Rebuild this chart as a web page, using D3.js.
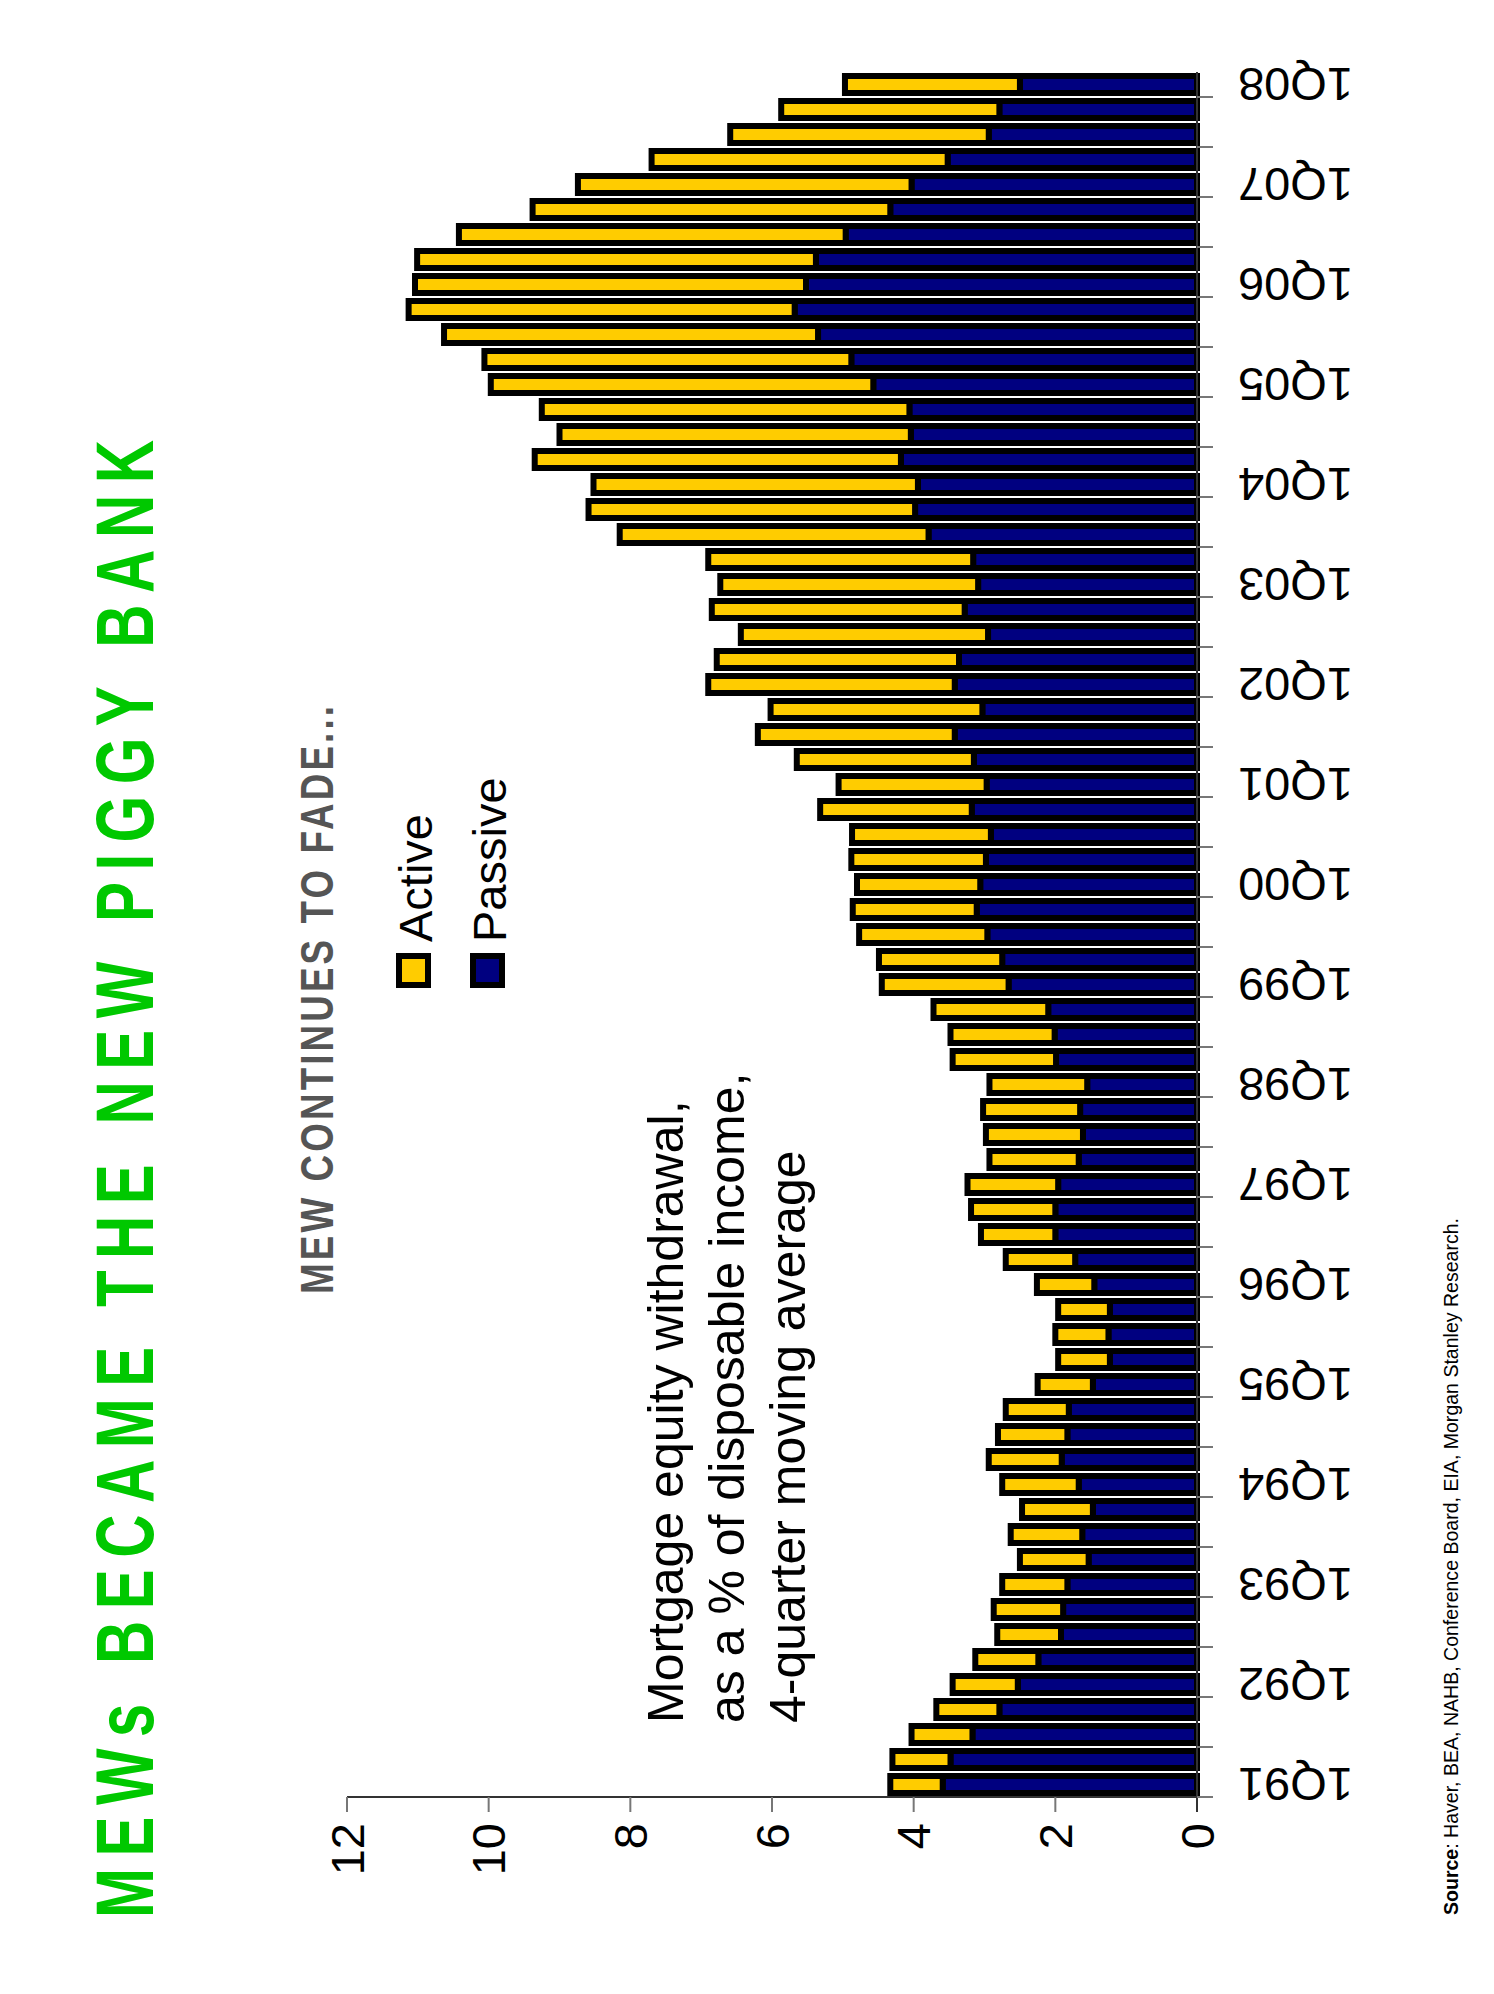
<!DOCTYPE html>
<html><head><meta charset="utf-8">
<script src="https://cdn.jsdelivr.net/npm/d3@7"></script>
<style>
html,body{margin:0;padding:0;background:#fff;}
svg{display:block;}
</style>
</head><body>
<script>
// ---- data (chronological, 1Q91 .. 1Q08) ----
const categories = (function(){
  const out = [];
  for (let y = 1991; y <= 2008; y++) {
    for (let q = 1; q <= 4; q++) {
      if (y === 2008 && q > 1) break;
      out.push(q + "Q" + String(y).slice(2));
    }
  }
  return out;
})();
const passive = [3.59,3.48,3.17,2.79, 2.53,2.24,1.92,1.89, 1.83,1.53,1.62,1.47, 1.67,1.91,1.83,1.81,
  1.47,1.23,1.25,1.23, 1.45,1.72,2.00,2.00, 1.96,1.67,1.61,1.65, 1.55,1.99,2.01,2.10,
  2.66,2.75,2.96,3.11, 3.06,2.98,2.91,3.18, 2.97,3.15,3.42,3.03, 3.42,3.36,2.95,3.28,
  3.09,3.16,3.79,3.98, 3.94,4.18,4.04,4.06, 4.57,4.88,5.35,5.68, 5.52,5.38,4.96,4.33,
  4.03,3.52,2.94,2.79, 2.50];
const active = [0.74,0.82,0.86,0.89, 0.92,0.89,0.90,0.98, 0.92,0.97,1.01,1.00, 1.08,1.03,0.98,0.89,
  0.78,0.73,0.75,0.73, 0.81,0.98,1.05,1.19, 1.28,1.26,1.37,1.37, 1.38,1.46,1.47,1.62,
  1.79,1.74,1.81,1.75, 1.74,1.90,1.96,2.14, 2.09,2.50,2.78,2.99, 3.48,3.42,3.49,3.57,
  3.64,3.74,4.36,4.61, 4.58,5.17,4.96,5.19, 5.40,5.18,5.28,5.45, 5.52,5.63,5.46,5.05,
  4.71,4.18,3.65,3.08, 2.47];
const valueTicks = [0,2,4,6,8,10,12];
const categoryLabels = categories.filter(c => c.startsWith("1Q"));
const seriesNames = ["Active","Passive"];
const titleText = "MEWs BECAME THE NEW PIGGY BANK";
const subtitleText = "MEW CONTINUES TO FADE...";
const noteLines = ["Mortgage equity withdrawal,", "as a % of disposable income,", "4-quarter moving average"];
const sourceBold = "Source";
const sourceRest = ": Haver, BEA, NAHB, Conference Board, EIA, Morgan Stanley Research.";

// ---- drawing ----
const W = 1494, H = 1994;
const YELLOW = "#FFCC00", NAVY = "#000080", GREEN = "#00C800";
const SANS = "'Liberation Sans', Arial, Helvetica, sans-serif";
const svg = d3.select("body").append("svg").attr("width", W).attr("height", H);
svg.append("rect").attr("width", W).attr("height", H).attr("fill", "#fff");

const x = d3.scaleLinear().domain([0, 12]).range([1197, 347]);
const y = d3.scaleBand().domain(categories).range([1797, 72]).padding(0);
const bw = y.bandwidth();
const SW = 6;

const rows = categories.map((c, i) => ({c, p: passive[i], a: active[i]}));
const gBars = svg.append("g");
const inset = 1 + SW / 2;
gBars.selectAll("rect.p").data(rows).join("rect")
  .attr("class", "p")
  .attr("x", d => x(d.p)).attr("width", d => x(0) - x(d.p))
  .attr("y", d => y(d.c) + inset).attr("height", bw - 2 * inset)
  .attr("fill", NAVY).attr("stroke", "#000").attr("stroke-width", SW);
gBars.selectAll("rect.a").data(rows).join("rect")
  .attr("class", "a")
  .attr("x", d => x(d.p + d.a)).attr("width", d => x(d.p) - x(d.p + d.a))
  .attr("y", d => y(d.c) + inset).attr("height", bw - 2 * inset)
  .attr("fill", YELLOW).attr("stroke", "#000").attr("stroke-width", SW);

// value axis
const baseY = y.range()[0];
svg.append("line").attr("x1", x(12)).attr("x2", x(0) + 2).attr("y1", baseY).attr("y2", baseY)
  .attr("stroke", "#333").attr("stroke-width", 2);
svg.selectAll("line.vt").data(valueTicks).join("line").attr("class", "vt")
  .attr("x1", d => x(d)).attr("x2", d => x(d)).attr("y1", baseY).attr("y2", baseY + 15)
  .attr("stroke", "#777").attr("stroke-width", 2);
svg.selectAll("text.vl").data(valueTicks).join("text").attr("class", "vl")
  .attr("transform", d => `translate(${x(d)},1823) rotate(-90)`)
  .attr("text-anchor", "end").attr("dominant-baseline", "central")
  .attr("font-family", SANS).attr("font-size", 47)
  .attr("fill", "#000").text(d => d);

// category axis
const ax = x(0);
svg.append("line").attr("x1", ax).attr("x2", ax).attr("y1", y.range()[1]).attr("y2", baseY + 15)
  .attr("stroke", "#333").attr("stroke-width", 2);
const tickCats = categories.filter((c, i) => i % 2 === 0);
svg.selectAll("line.ct").data(tickCats).join("line").attr("class", "ct")
  .attr("x1", ax).attr("x2", ax + 16)
  .attr("y1", d => y(d) + bw).attr("y2", d => y(d) + bw)
  .attr("stroke", "#777").attr("stroke-width", 2);
svg.selectAll("text.cl").data(categoryLabels).join("text").attr("class", "cl")
  .attr("transform", d => `translate(1238,${y(d) + bw / 2}) rotate(180)`)
  .attr("text-anchor", "end").attr("dominant-baseline", "central")
  .attr("font-family", SANS).attr("font-size", 47)
  .attr("fill", "#000").text(d => d);

// title (condensed look: horizontal squeeze + letter spacing)
const tScale = 0.74;
svg.append("text")
  .attr("transform", `translate(153,1918) rotate(-90) scale(${tScale},1)`)
  .attr("font-family", SANS)
  .attr("font-weight", "bold").attr("font-size", 81).attr("fill", GREEN)
  .attr("textLength", 1478 / tScale).attr("lengthAdjust", "spacing")
  .text(titleText);

// subtitle
const sScale = 0.8;
svg.append("text")
  .attr("transform", `translate(333,1294) rotate(-90) scale(${sScale},1)`)
  .attr("font-family", SANS)
  .attr("font-weight", "bold").attr("font-size", 46).attr("fill", "#555")
  .attr("textLength", 588 / sScale).attr("lengthAdjust", "spacing")
  .text(subtitleText);

// legend
const legendColors = [YELLOW, NAVY];
const legendX = [432, 506];
seriesNames.forEach((s, i) => {
  svg.append("rect").attr("x", legendX[i] - 33).attr("y", 956).attr("width", 29).attr("height", 29)
    .attr("fill", legendColors[i]).attr("stroke", "#000").attr("stroke-width", SW);
  svg.append("text")
    .attr("transform", `translate(${legendX[i]},942) rotate(-90)`)
    .attr("font-family", SANS).attr("font-size", 47)
    .attr("fill", "#000").text(s);
});

// note
const noteX = [683, 744, 805];
noteLines.forEach((t, i) => {
  svg.append("text")
    .attr("transform", `translate(${noteX[i]},1723) rotate(-90)`)
    .attr("font-family", SANS).attr("font-size", 50)
    .attr("fill", "#000").text(t);
});

// source
const srcScale = 0.82;
const src = svg.append("text")
  .attr("transform", `translate(1458,1915) rotate(-90) scale(${srcScale},1)`)
  .attr("font-family", SANS)
  .attr("font-size", 20).attr("fill", "#000")
  .attr("textLength", 697 / srcScale).attr("lengthAdjust", "spacingAndGlyphs");
src.append("tspan").attr("font-weight", "bold").text(sourceBold);
src.append("tspan").text(sourceRest);
</script>
</body></html>
